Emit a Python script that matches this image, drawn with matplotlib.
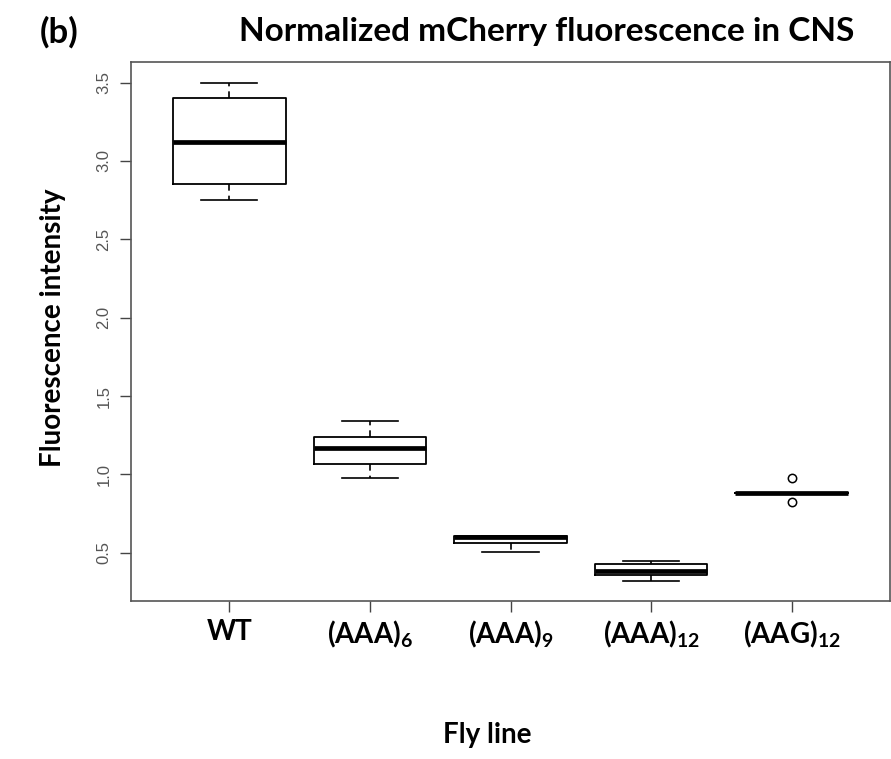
import numpy as np
import matplotlib
matplotlib.use('Agg')
from matplotlib import pyplot as plt

plt.rcParams['font.family'] = ['Lato', 'DejaVu Sans']
plt.rcParams['mathtext.fontset'] = 'custom'
plt.rcParams['mathtext.rm'] = 'Lato:bold'
plt.rcParams['mathtext.bf'] = 'Lato:bold'
plt.rcParams['mathtext.default'] = 'bf'

# box stats
lines = ['WT', '(AAA)$_{6}$', '(AAA)$_{9}$', '(AAA)$_{12}$', '(AAG)$_{12}$']
whis_lo = [2.75, 0.98, 0.505, 0.318, 0.88]
q1 = [2.85, 1.07, 0.56, 0.356, 0.88]
med = [3.12, 1.17, 0.60, 0.385, 0.88]
q3 = [3.40, 1.24, 0.61, 0.43, 0.88]
whis_hi = [3.50, 1.34, 0.61, 0.445, 0.88]
fliers = [[], [], [], [], [0.98, 0.823]]

stats = []
for i in range(len(lines)):
    stats.append({'med': med[i], 'q1': q1[i], 'q3': q3[i],
                  'whislo': whis_lo[i], 'whishi': whis_hi[i],
                  'fliers': fliers[i], 'label': lines[i]})

fig = plt.figure(figsize=(8.91, 7.59), dpi=100)
ax = fig.add_axes([0.147, 0.208, 0.852, 0.710])

ax.bxp(stats, widths=0.8, showfliers=True,
       boxprops=dict(color='black', linewidth=1.3),
       medianprops=dict(color='black', linewidth=3.4, solid_capstyle='butt'),
       whiskerprops=dict(color='black', linewidth=1.2, linestyle=(0, (4, 3))),
       capprops=dict(color='black', linewidth=1.2),
       capwidths=0.4,
       flierprops=dict(marker='o', markersize=6, markerfacecolor='none',
                       markeredgecolor='black', markeredgewidth=1.1))

ax.set_xlim(0.3, 5.7)
ax.set_ylim(0.192, 3.63)
ax.set_yticks([0.5, 1.0, 1.5, 2.0, 2.5, 3.0, 3.5])
ax.set_yticklabels(['0.5', '1.0', '1.5', '2.0', '2.5', '3.0', '3.5'],
                   rotation=90, va='center', fontsize=12, color='#555555',
                   family='Liberation Sans')
ax.tick_params(axis='y', length=8, width=1, color='#444444', pad=6)
ax.tick_params(axis='x', length=8, width=1, color='#444444', pad=5,
               labelsize=20)
for lab in ax.get_xticklabels():
    lab.set_fontweight('bold')

for sp in ax.spines.values():
    sp.set_color('#555555')
    sp.set_linewidth(1.2)

fig.text(53 / 891, 0.5 * (1 - 183 / 759) + 0.5 * (1 - 472 / 759),
         'Fluorescence intensity', fontsize=20, fontweight='bold',
         rotation=90, ha='center', va='center')
fig.text(0.547, 0.031, 'Fly line', fontsize=20, fontweight='bold',
         ha='center', va='center')
fig.text(0.045, 0.958, '(b)', fontsize=25, fontweight='bold', ha='left',
         va='center')
fig.text(0.614, 0.958, 'Normalized mCherry fluorescence in CNS', fontsize=24,
         fontweight='bold', ha='center', va='center')

fig.savefig('out.png', dpi=100)
